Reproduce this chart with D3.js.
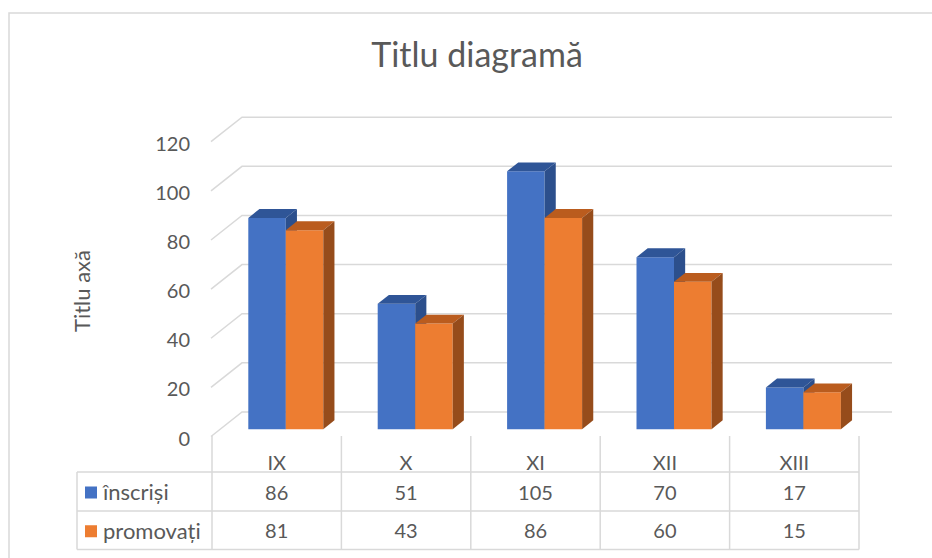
<!DOCTYPE html>
<html>
<head>
<meta charset="utf-8">
<script src="https://cdn.jsdelivr.net/npm/d3@7"></script>
<style>
  body { margin: 0; background: #fff; }
  text { font-family: Lato, "Open Sans", sans-serif; fill: #595959; }
</style>
</head>
<body>
<svg width="932" height="558"></svg>
<script>
// data
var categories = ['IX', 'X', 'XI', 'XII', 'XIII'];
var series_names = ['înscriși', 'promovați'];
var inscrisi = [86, 51, 105, 70, 17];
var promovati = [81, 43, 86, 60, 15];
var y_ticks = [0, 20, 40, 60, 80, 100, 120];

var series = [inscrisi, promovati];
var colors = [
  {front: '#4472C4', top: '#2F5597', side: '#2C4F8C'},
  {front: '#ED7D31', top: '#BA5C1E', side: '#964C1B'}
];

var svg = d3.select('svg'),
    width = +svg.attr('width'),
    height = +svg.attr('height');

// 3d offsets: depth 0 = front of floor, 1 = back wall
var depth_dx = 31, depth_dy = 24.5;
var bar_z0 = 0.3, bar_z1 = 0.66;

var y_front = d3.scaleLinear().domain([0, 120]).range([436.5, 141.7]);
var x_band = d3.scaleBand().domain(categories).range([212, 859]);
var x_series = d3.scaleBand().domain([0, 1]).range([27, 102]);

function proj(x, v, z) {
  return [x + z * depth_dx, y_front(v) - z * depth_dy];
}

// chart frame
svg.append('rect')
  .attr('x', 9).attr('y', 13)
  .attr('width', 960).attr('height', 600)
  .attr('fill', 'none')
  .attr('stroke', '#D9D9D9')
  .attr('stroke-width', 1.5);

// title
svg.append('text')
  .attr('x', 477).attr('y', 67)
  .attr('text-anchor', 'middle')
  .style('font-size', '34px')
  .text('Titlu diagramă');

// gridlines: side wall diagonal + back wall line
var grid = svg.append('g').attr('id', 'grid');
y_ticks.forEach(function(t) {
  var a = [211, y_front(t)],
      b = proj(211, t, 1),
      c = [892, b[1]];
  grid.append('path')
    .attr('d', d3.line()([a, b, c]))
    .attr('fill', 'none')
    .attr('stroke', '#D9D9D9')
    .attr('stroke-width', 1.5);
  grid.append('text')
    .attr('x', 190).attr('y', y_front(t) + 2)
    .attr('dy', '0.35em')
    .attr('text-anchor', 'end')
    .style('font-size', '20px')
    .text(t);
});

// axis title
svg.append('text')
  .attr('transform', 'translate(82,291) rotate(-90)')
  .attr('dy', '0.35em')
  .attr('text-anchor', 'middle')
  .style('font-size', '22px')
  .text('Titlu axă');

// bars
var bars = svg.append('g').attr('id', 'bars');
categories.forEach(function(cat, i) {
  series.forEach(function(vals, j) {
    var v = vals[i];
    var x0 = x_band(cat) + x_series(j),
        w = x_series.bandwidth();
    var fl = proj(x0, v, bar_z0), fr = proj(x0 + w, v, bar_z0),
        bl = proj(x0, v, bar_z1), br = proj(x0 + w, v, bar_z1),
        fb = proj(x0 + w, 0, bar_z0), bb = proj(x0 + w, 0, bar_z1),
        lb = proj(x0, 0, bar_z0);
    var g = bars.append('g');
    g.append('path')
      .attr('d', d3.line()([fl, fr, fb, lb]) + 'Z')
      .attr('fill', colors[j].front);
    g.append('path')
      .attr('d', d3.line()([fl, fr, br, bl]) + 'Z')
      .attr('fill', colors[j].top);
    g.append('path')
      .attr('d', d3.line()([fr, br, bb, fb]) + 'Z')
      .attr('fill', colors[j].side);
  });
});

// data table
var table = svg.append('g').attr('id', 'table');
var row_y = [472, 511, 549.5];
var line_color = '#D9D9D9';

function tline(x1, y1, x2, y2) {
  table.append('line')
    .attr('x1', x1).attr('y1', y1).attr('x2', x2).attr('y2', y2)
    .attr('stroke', line_color).attr('stroke-width', 1.5);
}

row_y.forEach(function(y) { tline(77, y, 859, y); });
tline(77, row_y[0], 77, row_y[2]);
x_band.domain().forEach(function(cat) { tline(x_band(cat), 436, x_band(cat), row_y[2]); });
tline(859, 436, 859, row_y[2]);

categories.forEach(function(cat, i) {
  var cx = x_band(cat) + x_band.bandwidth() / 2;
  table.append('text')
    .attr('x', cx).attr('y', 463)
    .attr('dy', '0.35em')
    .attr('text-anchor', 'middle')
    .style('font-size', '20px')
    .text(cat);
  series.forEach(function(vals, j) {
    table.append('text')
      .attr('x', cx).attr('y', (row_y[j] + row_y[j + 1]) / 2 + 1)
      .attr('dy', '0.35em')
      .attr('text-anchor', 'middle')
      .style('font-size', '20px')
      .text(vals[i]);
  });
});

series_names.forEach(function(name, j) {
  var cy = (row_y[j] + row_y[j + 1]) / 2;
  table.append('rect')
    .attr('x', 85).attr('y', cy - 5)
    .attr('width', 12).attr('height', 12)
    .attr('fill', colors[j].front);
  table.append('text')
    .attr('x', 103).attr('y', cy + 1)
    .attr('dy', '0.35em')
    .style('font-size', '22px')
    .text(name);
});
</script>
</body>
</html>
